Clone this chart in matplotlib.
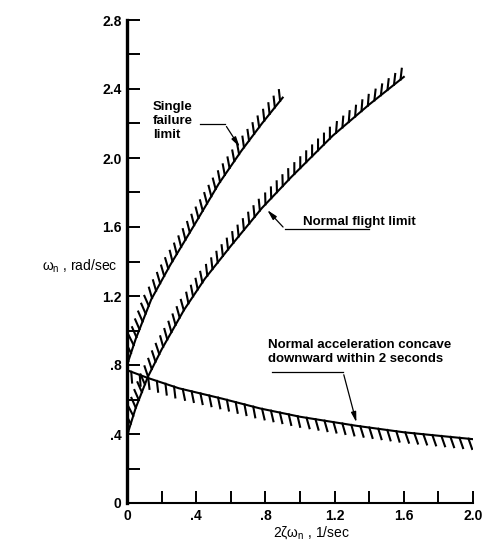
import matplotlib
matplotlib.use("Agg")
import matplotlib.pyplot as plt
from matplotlib import patheffects
import numpy as np

plt.rcParams['font.family'] = ['Liberation Sans', 'DejaVu Sans']
plt.rcParams['mathtext.fontset'] = 'custom'
plt.rcParams['mathtext.rm'] = 'Liberation Sans'
plt.rcParams['mathtext.it'] = 'Liberation Sans'

# boundaries (x = 2*zeta*wn, y = wn)
single_x = [0.0, 0.05, 0.14, 0.25, 0.40, 0.53, 0.66, 0.78, 0.90]
single_y = [0.80, 0.95, 1.18, 1.38, 1.63, 1.85, 2.04, 2.20, 2.35]

normal_x = [0.0, 0.05, 0.12, 0.20, 0.33, 0.45, 0.60, 0.78, 0.95, 1.19, 1.40, 1.60]
normal_y = [0.39, 0.55, 0.73, 0.89, 1.12, 1.30, 1.49, 1.71, 1.89, 2.13, 2.31, 2.47]

accel_x = [0.0, 0.12, 0.30, 0.55, 0.77, 1.00, 1.33, 1.60, 1.92, 2.00]
accel_y = [0.77, 0.725, 0.665, 0.605, 0.548, 0.50, 0.447, 0.41, 0.378, 0.37]

xticks = [0, 0.4, 0.8, 1.2, 1.6, 2.0]
xticklabels = ["0", ".4", ".8", "1.2", "1.6", "2.0"]
yticks = [0, 0.4, 0.8, 1.2, 1.6, 2.0, 2.4, 2.8]
yticklabels = ["0", ".4", ".8", "1.2", "1.6", "2.0", "2.4", "2.8"]

fig = plt.figure(figsize=(4.84, 5.44), dpi=100)
ax = fig.add_axes([127/484, 41/544, 346/484, 483/544])

up_hatch = [patheffects.withTickedStroke(spacing=6, angle=45, length=1.3)]
down_hatch = [patheffects.withTickedStroke(spacing=6.5, angle=-65, length=1.2)]

ax.plot(single_x, single_y, color='black', lw=1.5, path_effects=up_hatch)
ax.plot(normal_x, normal_y, color='black', lw=1.5, path_effects=up_hatch)
ax.plot(accel_x, accel_y, color='black', lw=1.5, path_effects=down_hatch)

ax.set_xlim(0, 2.0)
ax.set_ylim(0, 2.8)
for s in ['top', 'right']:
    ax.spines[s].set_visible(False)
ax.spines['left'].set_linewidth(2.4)
ax.spines['bottom'].set_linewidth(1.5)

ax.set_xticks(xticks)
ax.set_xticklabels(xticklabels)
ax.set_yticks(yticks)
ax.set_yticklabels(yticklabels)
ax.set_xticks(np.arange(0.2, 2.0, 0.4), minor=True)
ax.set_yticks(np.arange(0.2, 2.8, 0.4), minor=True)
ax.tick_params(which='both', direction='in', length=9, width=1.4, color='black')
ax.tick_params(axis='both', which='major', labelsize=10, pad=4)
for lab in ax.get_xticklabels() + ax.get_yticklabels():
    lab.set_fontweight('bold')

fig.text(80/484, 1 - 266/544, r'$\omega_n$ , rad/sec', ha='center', va='center', fontsize=10)
fig.text(311/484, 1 - 533/544, r'2$\zeta\omega_n$ , 1/sec', ha='center', va='center', fontsize=10)

# annotations with leaders
ax.text(0.15, 2.215, "Single\nfailure\nlimit", ha='left', va='center', fontsize=9.5,
        fontweight='bold', linespacing=1.25)
ax.plot([0.42, 0.566], [2.196, 2.196], color='black', lw=0.9)
ax.annotate("", xy=(0.66, 2.05), xytext=(0.566, 2.196),
            arrowprops=dict(arrowstyle='-|>,head_length=0.6,head_width=0.15', color='black', lw=0.9))

ax.text(1.017, 1.63, "Normal flight limit", ha='left', va='center', fontsize=9.5, fontweight='bold')
ax.plot([0.913, 1.40], [1.588, 1.588], color='black', lw=0.9)
ax.annotate("", xy=(0.80, 1.71), xytext=(0.913, 1.588),
            arrowprops=dict(arrowstyle='-|>,head_length=0.6,head_width=0.15', color='black', lw=0.9))

ax.text(0.815, 0.875, "Normal acceleration concave\ndownward within 2 seconds", ha='left',
        va='center', fontsize=9.5, fontweight='bold', linespacing=1.2)
ax.plot([0.838, 1.249], [0.759, 0.759], color='black', lw=0.9)
ax.annotate("", xy=(1.33, 0.452), xytext=(1.249, 0.759),
            arrowprops=dict(arrowstyle='-|>,head_length=0.6,head_width=0.15', color='black', lw=0.9))

fig.savefig("out.png", dpi=100)
